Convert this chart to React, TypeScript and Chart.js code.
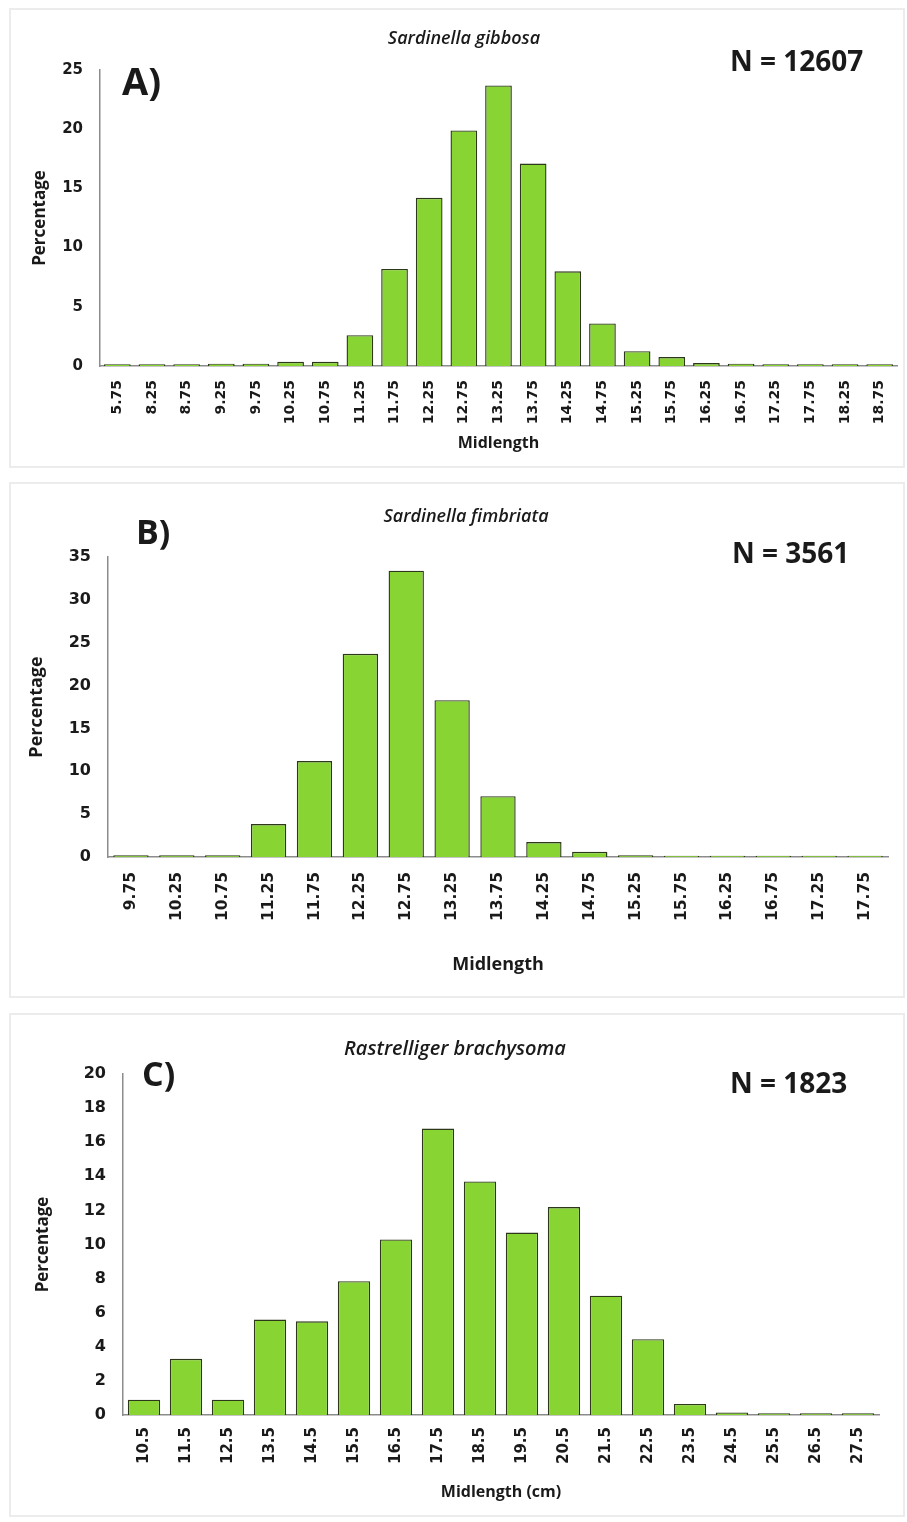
import React, { useEffect, useRef } from "react";
import { Chart, registerables } from "chart.js";

Chart.register(...registerables);

// ---------- DATA ----------
const aLabels = ["5.75", "8.25", "8.75", "9.25", "9.75", "10.25", "10.75", "11.25", "11.75", "12.25", "12.75", "13.25", "13.75", "14.25", "14.75", "15.25", "15.75", "16.25", "16.75", "17.25", "17.75", "18.25", "18.75"];
const aValues = [0.15, 0.15, 0.15, 0.2, 0.2, 0.35, 0.35, 2.6, 8.2, 14.2, 19.9, 23.7, 17.1, 8.0, 3.6, 1.25, 0.75, 0.25, 0.2, 0.15, 0.15, 0.15, 0.15];

const bLabels = ["9.75", "10.25", "10.75", "11.25", "11.75", "12.25", "12.75", "13.25", "13.75", "14.25", "14.75", "15.25", "15.75", "16.25", "16.75", "17.25", "17.75"];
const bValues = [0.2, 0.2, 0.2, 3.85, 11.2, 23.7, 33.4, 18.3, 7.1, 1.75, 0.6, 0.2, 0.15, 0.15, 0.15, 0.15, 0.15];

const cLabels = ["10.5", "11.5", "12.5", "13.5", "14.5", "15.5", "16.5", "17.5", "18.5", "19.5", "20.5", "21.5", "22.5", "23.5", "24.5", "25.5", "26.5", "27.5"];
const cValues = [0.9, 3.3, 0.9, 5.6, 5.5, 7.85, 10.3, 16.8, 13.7, 10.7, 12.2, 7.0, 4.45, 0.65, 0.15, 0.1, 0.1, 0.1];

const aYMax = 25, aYStep = 5;
const bYMax = 35, bYStep = 5;
const cYMax = 20, cYStep = 2;

// ---------- STYLE ----------
const BAR_FILL = "#87d432";
const BAR_BORDER = "#2c3819";
const AXIS_COLOR = "#8c8c8c";
const TEXT = "#1a1a1a";
const TICK_FONT = "'DejaVu Sans', sans-serif";
const LABEL_FONT = "'Open Sans', sans-serif";

type PanelProps = {
  labels: string[];
  values: number[];
  yMax: number;
  yStep: number;
  boxLeft: number;
  boxTop: number;
  boxWidth: number;
  boxHeight: number;
  yAxisWidth: number;
  xAxisHeight: number;
  padTop: number;
  padRight: number;
  yTitlePad: number;
  yTitleSize: number;
  xTitle: string;
  xTitlePad: number;
  xTitleSize: number;
  xTickPad: number;
  yTickSize: number;
  xTickSize: number;
};

function Panel(p: PanelProps) {
  const ref = useRef<HTMLCanvasElement | null>(null);
  const w = p.boxWidth - 4;
  const h = p.boxHeight - 4;
  useEffect(() => {
    if (!ref.current) return;
    const chart = new Chart(ref.current, {
      type: "bar",
      data: {
        labels: p.labels,
        datasets: [
          {
            data: p.values,
            backgroundColor: BAR_FILL,
            borderColor: BAR_BORDER,
            borderWidth: 1.4,
            barPercentage: 0.77,
            categoryPercentage: 1,
          },
        ],
      },
      options: {
        responsive: false,
        animation: false,
        devicePixelRatio: 1,
        layout: { padding: { top: p.padTop, right: p.padRight, bottom: 0, left: 0 } },
        plugins: { legend: { display: false }, tooltip: { enabled: false }, title: { display: false } },
        scales: {
          x: {
            grid: { display: false, drawTicks: false },
            border: { display: true, color: AXIS_COLOR, width: 1.5 },
            ticks: {
              autoSkip: false,
              minRotation: 90,
              maxRotation: 90,
              padding: p.xTickPad,
              color: TEXT,
              font: { family: TICK_FONT, size: p.xTickSize, weight: "bold" },
            },
            title: {
              display: true,
              text: p.xTitle,
              color: TEXT,
              padding: { top: 0, bottom: p.xTitlePad },
              font: { family: LABEL_FONT, size: p.xTitleSize, weight: "bold" },
            },
            afterFit: (s: any) => {
              s.height = p.xAxisHeight;
              s.paddingLeft = 0;
              s.paddingRight = 0;
            },
          },
          y: {
            min: 0,
            max: p.yMax,
            grid: { display: false, drawTicks: false },
            border: { display: true, color: AXIS_COLOR, width: 1.5 },
            ticks: {
              stepSize: p.yStep,
              padding: 17,
              color: TEXT,
              font: { family: TICK_FONT, size: p.yTickSize, weight: "bold" },
            },
            title: {
              display: true,
              text: "Percentage",
              color: TEXT,
              padding: { top: p.yTitlePad, bottom: 0 },
              font: { family: LABEL_FONT, size: p.yTitleSize, weight: "bold" },
            },
            afterFit: (s: any) => {
              s.width = p.yAxisWidth;
              s.paddingTop = 0;
              s.paddingBottom = 0;
            },
          },
        },
      },
    });
    return () => chart.destroy();
  }, []);
  return (
    <div
      style={{
        position: "absolute",
        left: p.boxLeft,
        top: p.boxTop,
        width: p.boxWidth,
        height: p.boxHeight,
        boxSizing: "border-box",
        border: "2px solid #ececec",
        background: "#fff",
      }}
    >
      <canvas ref={ref} width={w} height={h} style={{ display: "block", width: w, height: h }} />
    </div>
  );
}

function Txt(props: { x: number; y: number; size: number; italic?: boolean; weight?: number; center?: boolean; children: React.ReactNode }) {
  return (
    <div
      style={{
        position: "absolute",
        left: props.x,
        top: props.y,
        transform: props.center ? "translate(-50%, -50%)" : "translate(0, -50%)",
        fontFamily: LABEL_FONT,
        fontSize: props.size,
        fontStyle: props.italic ? "italic" : "normal",
        fontWeight: props.weight ?? 700,
        color: TEXT,
        whiteSpace: "nowrap",
        lineHeight: 1,
      }}
    >
      {props.children}
    </div>
  );
}

export default function App() {
  return (
    <div style={{ position: "absolute", left: 0, top: 0, width: 907, height: 1522, background: "#fff", overflow: "hidden" }}>
      <Panel
        labels={aLabels} values={aValues} yMax={aYMax} yStep={aYStep}
        boxLeft={9} boxTop={8} boxWidth={896} boxHeight={460}
        yAxisWidth={89} xAxisHeight={100} padTop={60} padRight={6}
        yTitlePad={19} yTitleSize={17} xTitle="Midlength" xTitlePad={13} xTitleSize={16}
        xTickPad={14} yTickSize={15} xTickSize={14}
      />
      <Panel
        labels={bLabels} values={bValues} yMax={bYMax} yStep={bYStep}
        boxLeft={9} boxTop={482} boxWidth={896} boxHeight={516}
        yAxisWidth={97} xAxisHeight={139} padTop={73} padRight={15}
        yTitlePad={15} yTitleSize={18} xTitle="Midlength" xTitlePad={20} xTitleSize={18}
        xTickPad={15} yTickSize={16} xTickSize={15.5}
      />
      <Panel
        labels={cLabels} values={cValues} yMax={cYMax} yStep={cYStep}
        boxLeft={9} boxTop={1013} boxWidth={896} boxHeight={504}
        yAxisWidth={112} xAxisHeight={100} padTop={59} padRight={24}
        yTitlePad={22} yTitleSize={17} xTitle="Midlength (cm)" xTitlePad={13} xTitleSize={16}
        xTickPad={12} yTickSize={16} xTickSize={15}
      />

      <Txt x={464} y={37} size={18} italic weight={600} center>Sardinella gibbosa</Txt>
      <Txt x={122} y={80} size={38}>A)</Txt>
      <Txt x={730} y={60} size={28}>N = 12607</Txt>

      <Txt x={466} y={515} size={18} italic weight={600} center>Sardinella fimbriata</Txt>
      <Txt x={136} y={531} size={34}>B)</Txt>
      <Txt x={732} y={552} size={28}>N = 3561</Txt>

      <Txt x={455} y={1048} size={20} italic weight={600} center>Rastrelliger brachysoma</Txt>
      <Txt x={142} y={1073} size={34}>C)</Txt>
      <Txt x={730} y={1082} size={28}>N = 1823</Txt>
    </div>
  );
}
